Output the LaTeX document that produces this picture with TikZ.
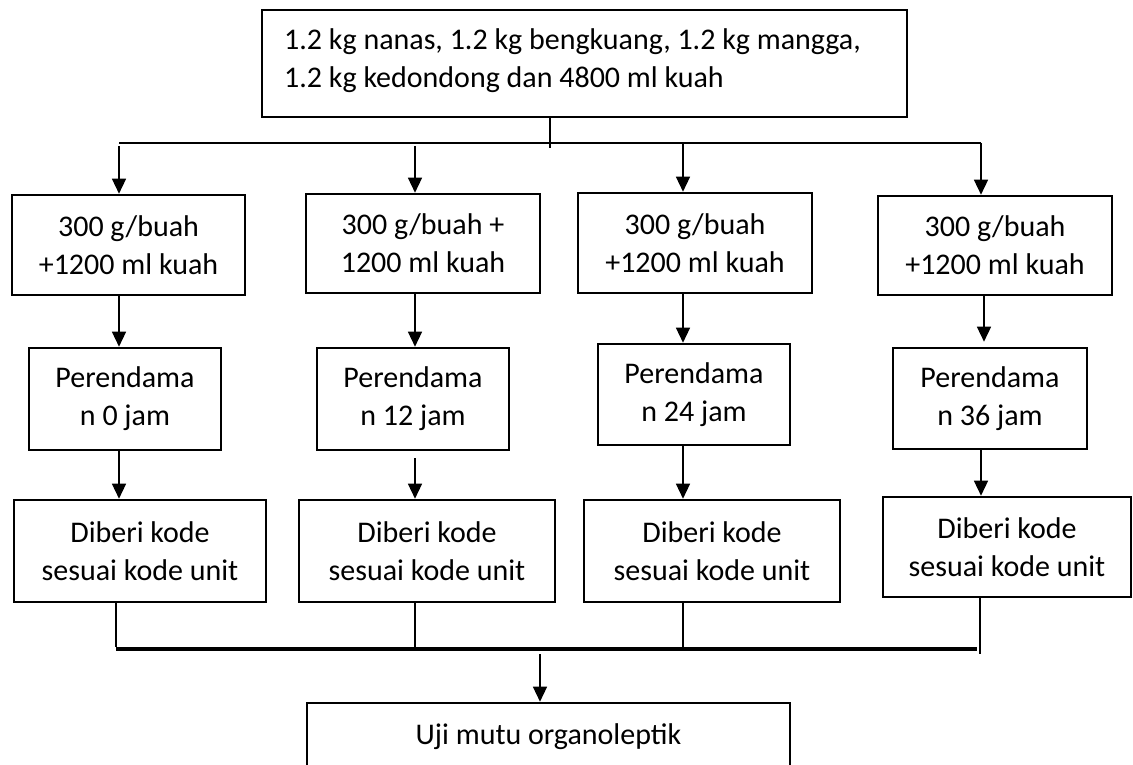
\documentclass[tikz,border=0pt]{standalone}
\usepackage{fontspec}
\setmainfont{Carlito}
\usetikzlibrary{arrows.meta,calc}

\tikzset{
  box/.style={draw, line width=2.6pt, inner sep=0pt, align=center,
              font=\fontsize{30}{38}\selectfont},
  label/.style={inner sep=0pt, align=left, font=\fontsize{30}{38}\selectfont},
  conn/.style={line width=1.4pt},
  arr/.style={conn, -{Triangle[length=15pt,width=14pt]}},
  bus/.style={line width=3.2pt}
}

\begin{document}
\begin{tikzpicture}[x=1pt,y=-1pt]
\useasboundingbox (0,0) rectangle (1133,765);
\clip (0,0) rectangle (1133,765);

% column positions of the vertical connectors
\coordinate (c1) at (119,0);
\coordinate (c2) at (415,0);
\coordinate (c3) at (683,0);
\coordinate (c4) at (981,0);
\coordinate (split) at (550,143);
\coordinate (join) at (540,649);

% raw material
\node[box, minimum width=645pt, minimum height=107pt] (T) at (584.5,63.5) {};
\node[label, anchor=west] (Ttext) at (284,61)
  {1.2 kg nanas, 1.2 kg bengkuang, 1.2 kg mangga,\\1.2 kg kedondong dan 4800 ml kuah};

% portioning
\node[box, minimum width=233pt, minimum height=100pt] (B1) at (128.5,245) {300 g/buah\\+1200 ml kuah};
\node[box, minimum width=234pt, minimum height=99pt]  (B2) at (423,243.5) {300 g/buah +\\1200 ml kuah};
\node[box, minimum width=234pt, minimum height=100pt] (B3) at (695,243) {300 g/buah\\+1200 ml kuah};
\node[box, minimum width=234pt, minimum height=99pt]  (B4) at (995,245.5) {300 g/buah\\+1200 ml kuah};

% soaking
\node[box, minimum width=192pt, minimum height=102pt] (C1) at (125,399) {Perendama\\n 0 jam};
\node[box, minimum width=192pt, minimum height=102pt] (C2) at (413,399) {Perendama\\n 12 jam};
\node[box, minimum width=192pt, minimum height=101pt] (C3) at (694,394.5) {Perendama\\n 24 jam};
\node[box, minimum width=194pt, minimum height=101pt] (C4) at (990,398.5) {Perendama\\n 36 jam};

% coding
\node[box, minimum width=252pt, minimum height=102pt] (D1) at (140,551) {Diberi kode\\sesuai kode unit};
\node[box, minimum width=256pt, minimum height=102pt] (D2) at (427,551) {Diberi kode\\sesuai kode unit};
\node[box, minimum width=256pt, minimum height=102pt] (D3) at (712,551) {Diberi kode\\sesuai kode unit};
\node[box, minimum width=248pt, minimum height=100pt] (D4) at (1007,547) {Diberi kode\\sesuai kode unit};

% test
\node[box, minimum width=483pt, minimum height=68pt] (U) at (548.5,737) {Uji mutu organoleptik};

% distribution from the raw material
\draw[conn] (T.south -| split) -- ($(split)+(0,5)$);
\draw[conn] (c1 |- split) -- (c4 |- split);
\draw[arr] ($(c1 |- split)+(0,3)$) -- (B1.north -| c1);
\draw[arr] ($(c2 |- split)+(0,3)$) -- (B2.north -| c2);
\draw[arr] (c3 |- split) -- (B3.north -| c3);
\draw[arr] (c4 |- split) -- (B4.north -| c4);

% portioning to soaking
\draw[arr] (B1.south -| c1) -- (C1.north -| c1);
\draw[arr] (B2.south -| c2) -- (C2.north -| c2);
\draw[arr] (B3.south -| c3) -- (C3.north -| c3);
\draw[arr, shorten >=5pt] ($(B4.south)+(-11,0)$) -- ($(C4.north)+(-6,0)$);

% soaking to coding
\draw[arr] (C1.south -| c1) -- (D1.north -| c1);
\draw[arr] ($(C2.south -| c2)+(0,7)$) -- (D2.north -| c2);
\draw[arr] (C3.south -| c3) -- (D3.north -| c3);
\draw[arr] (C4.south -| c4) -- (D4.north -| c4);

% collecting to the test
\draw[conn] (D1.south -| 116,0) -- (116,647);
\draw[conn] (D2.south -| c2) -- (c2 |- 0,647);
\draw[conn] (D3.south -| c3) -- (c3 |- 0,647);
\draw[conn] (D4.south -| 980,0) -- (980,654);
\draw[bus] (116,649) -- (977,649);
\draw[arr] ($(join)+(0,5)$) -- (U.north -| join);
\end{tikzpicture}
\end{document}
